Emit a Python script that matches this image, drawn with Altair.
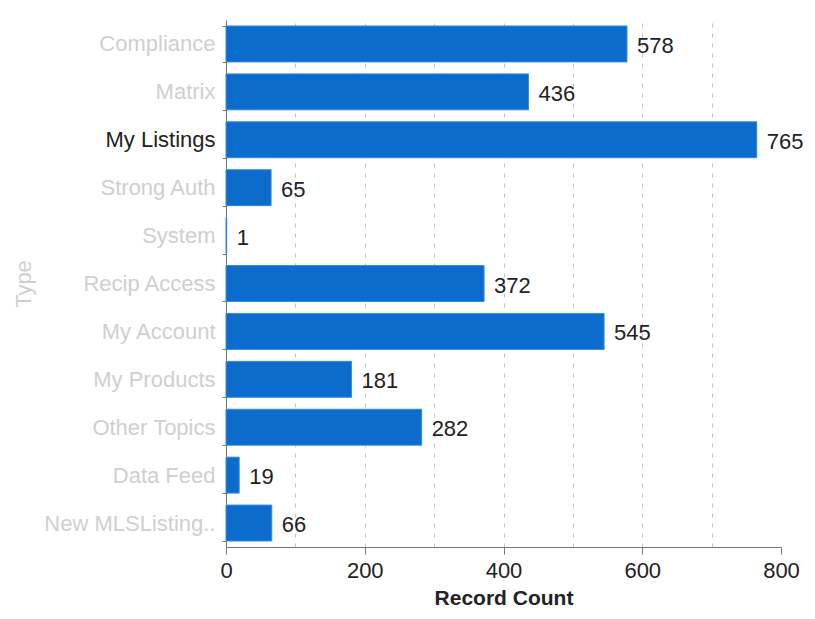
import altair as alt
import pandas as pd

types = ["Compliance", "Matrix", "My Listings", "Strong Auth", "System", "Recip Access",
         "My Account", "My Products", "Other Topics", "Data Feed", "New MLSListing.."]
counts = [578, 436, 765, 65, 1, 372, 545, 181, 282, 19, 66]
x_ticks = [0, 100, 200, 300, 400, 500, 600, 700, 800]
highlight = "My Listings"

df = pd.DataFrame({"Type": types, "Record Count": counts})

FONT = "Liberation Sans"
FS = 22

y_enc = alt.Y(
    "Type:N", sort=types, title="Type",
    scale=alt.Scale(paddingInner=0.25, paddingOuter=0.125),
    axis=alt.Axis(
        tickBand="extent", tickSize=4, labelPadding=7, labelFontSize=FS, labelFont=FONT,
        labelColor=alt.condition(f"datum.value == '{highlight}'", alt.value("#222222"), alt.value("#cfcfcf")),
        titleFontSize=FS, titleFont=FONT, titleColor="#cfcfcf", titleFontWeight="normal",
        titleX=-196, titleBaseline="alphabetic",
        domainColor="#777777", tickColor="#777777", labelLimit=300,
    ),
)
x_enc = alt.X(
    "Record Count:Q", title="Record Count",
    scale=alt.Scale(domain=[0, 800], nice=False),
    axis=alt.Axis(
        values=x_ticks, tickSize=7, labelPadding=6, labelFontSize=FS, labelFont=FONT,
        labelColor="#222222", labelFlush=False,
        labelExpr="datum.value % 200 == 0 ? datum.label : ''",
        tickOpacity=alt.condition("datum.value % 200 == 0", alt.value(1), alt.value(0)),
        grid=True, gridDash=[4, 6], gridColor="#c4c4c4",
        gridOpacity=alt.condition("datum.value == 0 || datum.value == 800", alt.value(0), alt.value(1)),
        titleFontSize=21, titleFont=FONT, titleColor="#222222", titleFontWeight="bold",
        titlePadding=6, domainColor="#777777", tickColor="#777777",
    ),
)

bars = alt.Chart(df).mark_bar(color="#0b6ccb", stroke="#3a8ade", strokeWidth=1).encode(
    x=x_enc, y=y_enc
)
labels = alt.Chart(df).mark_text(
    align="left", baseline="middle", dx=10, dy=2, fontSize=FS, font=FONT, color="#222222"
).encode(
    x=alt.X("Record Count:Q"), y=alt.Y("Type:N", sort=types), text="Record Count:Q"
)

chart = (bars + labels).properties(
    width=555, height=527,
    autosize=alt.AutoSizeParams(type="none"),
    padding={"left": 218, "top": 12, "right": 26, "bottom": 63},
).configure_view(stroke=None)

chart.save("out.html", embed_options={"renderer": "svg", "actions": False})
